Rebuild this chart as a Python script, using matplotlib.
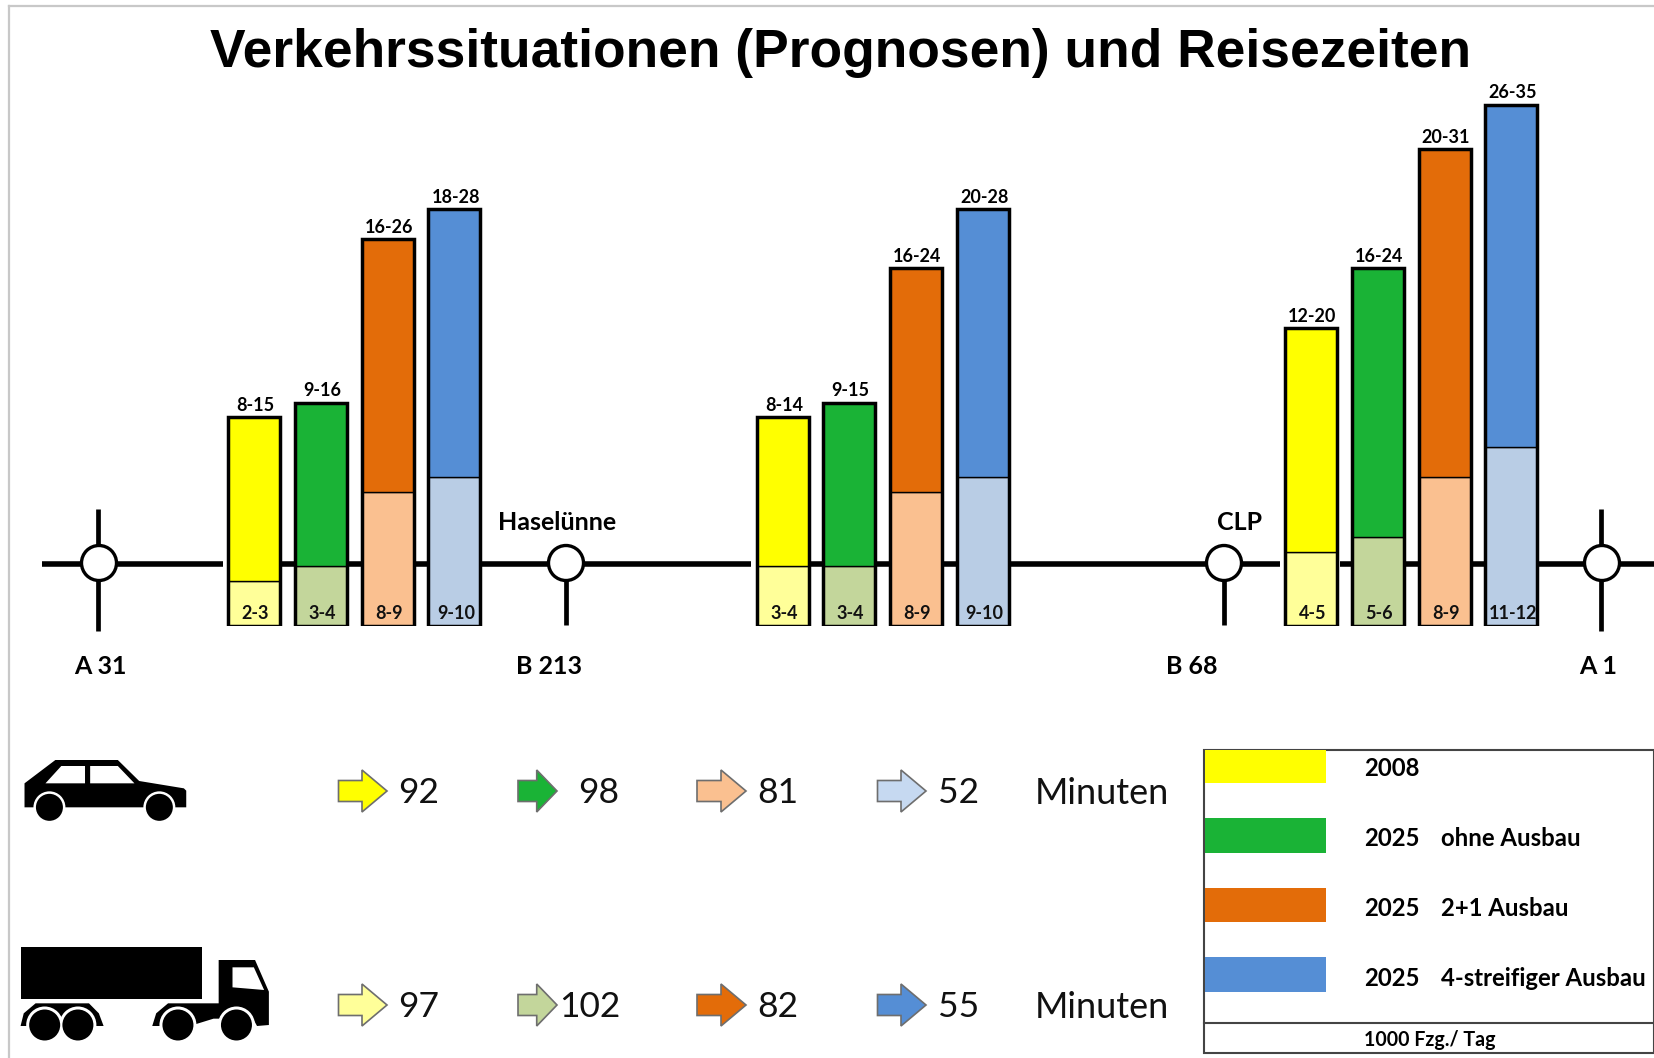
import matplotlib
matplotlib.use("Agg")
import matplotlib.pyplot as plt
from matplotlib.patches import Polygon, Circle, Rectangle

W, H = 1654, 1058
TITLE = "Verkehrssituationen (Prognosen) und Reisezeiten"
DARK = ["#FFFF00", "#1AB336", "#E36C09", "#558ED5"]
LIGHT = ["#FFFF99", "#C3D69B", "#FAC090", "#B9CDE5"]

# bar heights as drawn (1000 Fzg./Tag), per section
lower_heights = [[3, 4, 9, 10], [4, 4, 9, 10], [5, 6, 10, 12]]
total_heights = [[14, 15, 26, 28], [14, 15, 24, 28], [20, 24, 32, 35]]
top_labels = [["8-15", "9-16", "16-26", "18-28"],
              ["8-14", "9-15", "16-24", "20-28"],
              ["12-20", "16-24", "20-31", "26-35"]]
bottom_labels = [["2-3", "3-4", "8-9", "9-10"],
                 ["3-4", "3-4", "8-9", "9-10"],
                 ["4-5", "5-6", "8-9", "11-12"]]
car_minutes = ["92", "98", "81", "52"]
truck_minutes = ["97", "102", "82", "55"]
legend_years = ["2008", "2025", "2025", "2025"]
legend_names = ["", "ohne Ausbau", "2+1 Ausbau", "4-streifiger Ausbau"]

GROUP_X = [228, 756.5, 1285]
BAR_STEP = 66.8
BAR_W = 52
BASE_Y = 626
PX_PER_UNIT = 14.9
FONT = "Lato"

fig = plt.figure(figsize=(W / 100, H / 100), dpi=100, facecolor="white")
ax = fig.add_axes([0, 0, 1, 1], zorder=1)
ax.set_xlim(0, W); ax.set_ylim(H, 0); ax.axis("off")

# frame remnants
ax.plot([9, 9], [6, H], color="#c8c8c8", lw=1.6)
ax.plot([9, W], [6, 6], color="#c8c8c8", lw=1.6)

ax.text(841, 53, TITLE, family="Liberation Sans", weight="bold", fontsize=38.4,
        ha="center", va="center", color="black")

# road
ROAD = "black"
road_lw = 4.0
for x0, x1 in [(42, 223), (280, 751), (810, 1280), (1340, W)]:
    ax.plot([x0, x1], [563.5, 563.5], color=ROAD, lw=road_lw, solid_capstyle="butt")

# junctions
for cx, y0, y1 in [(99, 509, 631), (566, 564, 625), (1224, 564, 625), (1602, 509, 631)]:
    stem_x = cx - 1.5 if y0 < 520 else cx
    ax.plot([stem_x, stem_x], [y0, y1], color=ROAD, lw=3.4, solid_capstyle="butt")
    ax.add_patch(Circle((cx, 563), 17.5, fc="white", ec="black", lw=2.4, zorder=3))

for x, y, s in [(100, 667, "A 31"), (548.5, 667, "B 213"), (1192, 667, "B 68"), (1598, 667, "A 1"),
                (557, 522, "Haselünne"), (1240, 522, "CLP")]:
    ax.text(x, y, s, family=FONT, weight="bold", fontsize=18, ha="center", va="center")

# bars
bx = fig.add_axes([0, (H - BASE_Y) / H, 1, BASE_Y / H], zorder=2)
bx.set_xlim(0, W); bx.set_ylim(0, BASE_Y / PX_PER_UNIT); bx.axis("off"); bx.patch.set_alpha(0)
for g, gx in enumerate(GROUP_X):
    for i in range(4):
        x = gx + i * BAR_STEP + BAR_W / 2
        low, tot = lower_heights[g][i], total_heights[g][i]
        bx.bar(x, low, BAR_W, color=LIGHT[i], edgecolor="black", lw=1.0)
        bx.bar(x, tot - low, BAR_W, bottom=low, color=DARK[i], edgecolor="black", lw=1.0)
        bx.bar(x, tot, BAR_W, color="none", edgecolor="black", lw=2.5)
        bx.annotate(top_labels[g][i], (x, tot), xytext=(1, 2.2), textcoords="offset points",
                    ha="center", va="bottom", family=FONT, weight="bold", fontsize=13)
        bx.annotate(bottom_labels[g][i], (x, 0), xytext=(1, 9), textcoords="offset points",
                    ha="center", va="center", family=FONT, weight="bold", fontsize=13,
                    color="#111111")

# arrows and minutes
def arrow(x0, x1, yc, color):
    head = min(25, (x1 - x0) * 0.52)
    hb = 10.5
    ht = 21
    pts = [(x0, yc - hb), (x1 - head, yc - hb), (x1 - head, yc - ht), (x1, yc),
           (x1 - head, yc + ht), (x1 - head, yc + hb), (x0, yc + hb)]
    ax.add_patch(Polygon(pts, closed=True, fc=color, ec="#6e6e6e", lw=1.2, joinstyle="miter"))

arrow_x = [(338.5, 387), (518, 557), (697, 746), (877.5, 926)]
num_x_car = [419, 599, 778, 959]
num_x_truck = [419, 590, 778, 959]
car_cols = [DARK[0], DARK[1], LIGHT[2], "#C6D9F1"]
truck_cols = [LIGHT[0], LIGHT[1], DARK[2], DARK[3]]
for yc, vals, cols, nx in [(791, car_minutes, car_cols, num_x_car),
                           (1005, truck_minutes, truck_cols, num_x_truck)]:
    for (a0, a1), v, c, x in zip(arrow_x, vals, cols, nx):
        arrow(a0, a1, yc, c)
        ax.text(x, yc + 2, v, family=FONT, fontsize=25.5, ha="center", va="center", color="#111111")
    ax.text(1102, yc + 2, "Minuten", family=FONT, fontsize=26, ha="center", va="center", color="#111111")

# vehicle icons (zoom-crop coordinates → pixels)
def z(pts):
    return [(px / 2.529, 730 + py / 3) for px, py in pts]

def wheel(zx, zy, r, halo):
    cx, cy = z([(zx, zy)])[0]
    ax.add_patch(Circle((cx, cy), halo, fc="white", ec="none", zorder=4))
    ax.add_patch(Circle((cx, cy), r, fc="black", ec="none", zorder=5))

ax.add_patch(Polygon(z([(62, 160), (140, 90), (298, 90), (352, 153), (465, 175), (471, 182),
                        (471, 232), (62, 232)]), fc="black", ec="none"))
ax.add_patch(Polygon(z([(115, 160), (155, 108), (215, 108), (215, 160)]), fc="white", ec="none"))
ax.add_patch(Polygon(z([(228, 108), (298, 108), (340, 160), (228, 160)]), fc="white", ec="none"))
wheel(125, 232, 13.5, 16)
wheel(403, 232, 13.5, 16)

ax.add_patch(Rectangle((52 / 2.529, 730 + 652 / 3), 460 / 2.529, 154 / 3, fc="black", ec="none"))
ax.add_patch(Polygon(z([(553, 690), (645, 690), (680, 785), (680, 885), (650, 888), (640, 866),
                        (540, 866), (480, 888), (385, 888), (395, 850), (425, 820), (553, 820)]),
                     fc="black", ec="none"))
ax.add_patch(Polygon(z([(588, 712), (642, 712), (668, 780), (588, 772)]), fc="white", ec="none"))
ax.add_patch(Polygon(z([(52, 888), (60, 850), (90, 820), (225, 820), (250, 850), (262, 888)]),
                     fc="black", ec="none"))
for zx in [113, 197, 450, 598]:
    wheel(zx, 885, 15.5, 18.5)

# legend
ax.add_patch(Rectangle((1203.5, 749.5), W - 1204, 303.5, fc="white", ec="#444444", lw=1.5, zorder=1))
ax.plot([1203.5, W], [1023, 1023], color="#444444", lw=1.5)
sw_y = [(750, 783), (818, 853), (888, 922), (957, 992)]
txt_y = [769, 839, 909, 978]
for (y0, y1), c, yr, nm, ty in zip(sw_y, DARK, legend_years, legend_names, txt_y):
    ax.add_patch(Rectangle((1204.5, y0), 121, y1 - y0, fc=c, ec="none", zorder=2))
    ax.text(1364, ty, yr, family=FONT, weight="bold", fontsize=17.2, va="center")
    if nm:
        ax.text(1441, ty, nm, family=FONT, weight="bold", fontsize=17.2, va="center")
ax.text(1364, 1040, "1000 Fzg./ Tag", family=FONT, weight="bold", fontsize=14.1, va="center")

fig.savefig("out.png", dpi=100)
